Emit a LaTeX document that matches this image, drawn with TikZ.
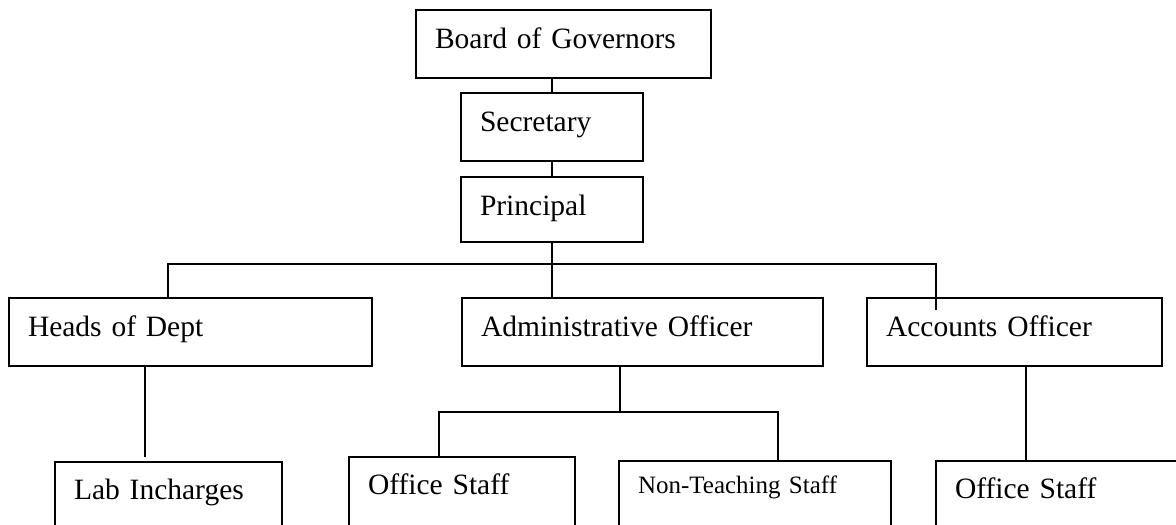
\documentclass[tikz,border=0pt]{standalone}
\usepackage{fontspec}
\setmainfont{Liberation Serif}
\usetikzlibrary{positioning}
\tikzset{
  post/.style={draw, line width=1.5pt, outer sep=0pt, anchor=north west,
    inner xsep=19pt, inner ysep=0pt, text width=#1, align=left,
    text height=39pt, text depth=29pt, font=\fontsize{29.5}{36}\selectfont},
  low/.style={text height=38pt, text depth=60pt},
  wire/.style={line width=1.2pt}
}
\begin{document}
\begin{tikzpicture}[x=1pt,y=1pt]
   \useasboundingbox (0,0) rectangle (1176,525);
   \clip (0,0) rectangle (1176,525);
   \node[post=257pt] (board) at (416,515) {Board of Governors};
   \node[post=144pt] (sec) at (461,432) {Secretary};
   \node[post=144pt, text depth=26pt] (prin) [below=16pt of sec] {Principal};
   \node[post=325pt] (heads) at (9,227) {Heads of Dept};
   \node[post=323pt] (admin) [right=90pt of heads] {Administrative Officer};
   \node[post=257pt] (acct) [right=44pt of admin] {Accounts Officer};
   \node[post=189pt, low] (lab) at (55,63) {Lab Incharges};
   \node[post=188pt, low] (off_1) at (349,68) {Office Staff};
   \node[post=234pt, low, text height=33pt, font=\fontsize{25}{30}\selectfont] (nts) at (619,64) {Non-Teaching Staff};
   \node[post=216pt, low] (off_2) at (936,64) {Office Staff};
   \coordinate (bus_l) at (168,261);
   \coordinate (bus_r) at (936,261);
   \coordinate (lab_in) at (145,68);
   \coordinate (fork) at (620,113);
   \coordinate (fork_l) at (439,113);
   \coordinate (fork_r) at (778,113);
   \coordinate (acct_out) at (1026,0);
    \path[wire]
    (sec.north) edge (sec.north |- board.south)
    (sec.south) edge (prin.north)
    (prin.south) edge (prin.south |- admin.north)
    (lab_in |- heads.south) edge (lab_in)
    (fork |- admin.south) edge (fork)
    (acct_out |- acct.south) edge (acct_out |- off_2.north);
    \draw[wire] (bus_l |- heads.north) -- (bus_l) -- (bus_r) -- ++(0,-46);
    \draw[wire] (fork_l |- off_1.north) -- (fork_l) -- (fork_r) -- (fork_r |- nts.north);
\end{tikzpicture}
\end{document}
